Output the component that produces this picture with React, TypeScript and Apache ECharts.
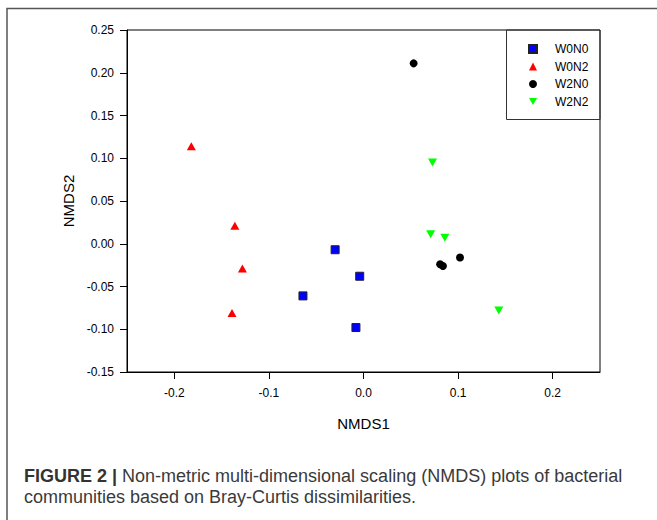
import React, { useEffect, useRef } from "react";
import * as echarts from "echarts";

const seriesNames = ["W0N0", "W0N2", "W2N0", "W2N2"];
const w0n0X = [-0.03, -0.004, -0.064, -0.008];
const w0n0Y = [-0.007, -0.038, -0.061, -0.098];
const w0n2X = [-0.182, -0.136, -0.128, -0.139];
const w0n2Y = [0.114, 0.021, -0.029, -0.081];
const w2n0X = [0.053, 0.102, 0.081, 0.084];
const w2n0Y = [0.211, -0.016, -0.024, -0.026];
const w2n2X = [0.073, 0.071, 0.086, 0.143];
const w2n2Y = [0.095, 0.011, 0.007, -0.078];
const xTicks = [-0.2, -0.1, 0.0, 0.1, 0.2];

const pairs = (xs: number[], ys: number[]) => xs.map((x, i) => [x, ys[i]]);

export default function App() {
  const ref = useRef<HTMLDivElement>(null);
  useEffect(() => {
    if (!ref.current) return;
    const chart = echarts.init(ref.current, null, { renderer: "svg" });
    const font = "'Liberation Sans', Arial, sans-serif";
    chart.setOption({
      animation: false,
      textStyle: { fontFamily: font },
      grid: {
        left: 127,
        top: 30,
        width: 473,
        height: 342,
        show: true,
        borderColor: "#000",
        borderWidth: 1,
        backgroundColor: "transparent",
      },
      legend: {
        data: [
          { name: seriesNames[0], icon: "rect" },
          { name: seriesNames[1], icon: "triangle" },
          { name: seriesNames[2], icon: "circle" },
          { name: seriesNames[3], icon: "path://M0,0L10,0L5,9Z" },
        ],
        orient: "vertical",
        left: 528,
        top: 43,
        padding: 0,
        itemWidth: 8,
        itemHeight: 8,
        itemGap: 5.5,
        textStyle: {
          fontFamily: font,
          fontSize: 12,
          lineHeight: 12,
          color: "#000",
          padding: [0, 0, 0, 13],
        },
      },
      xAxis: {
        type: "value",
        min: -0.25,
        max: 0.25,
        name: "NMDS1",
        nameLocation: "middle",
        nameGap: 44,
        nameTextStyle: { fontFamily: font, fontSize: 15, color: "#000" },
        axisLine: { show: true, onZero: false, lineStyle: { color: "#000", width: 1 } },
        axisTick: { show: true, length: 7, customValues: xTicks, lineStyle: { color: "#000" } },
        axisLabel: {
          customValues: xTicks,
          margin: 15,
          fontSize: 12,
          color: "#000",
          fontFamily: font,
          formatter: (v: number) => v.toFixed(1),
        },
        splitLine: { show: false },
      },
      yAxis: {
        type: "value",
        min: -0.15,
        max: 0.25,
        interval: 0.05,
        name: "NMDS2",
        nameLocation: "middle",
        nameGap: 43,
        nameTextStyle: { fontFamily: font, fontSize: 15, color: "#000" },
        axisLine: { show: true, onZero: false, lineStyle: { color: "#000", width: 1 } },
        axisTick: { show: true, length: 7, lineStyle: { color: "#000" } },
        axisLabel: {
          margin: 13,
          fontSize: 12,
          color: "#000",
          fontFamily: font,
          formatter: (v: number) => v.toFixed(2),
        },
        splitLine: { show: false },
      },
      series: [
        {
          name: "W0N0",
          type: "scatter",
          symbol: "rect",
          symbolSize: 8,
          itemStyle: { color: "#0000ff", borderColor: "#222", borderWidth: 1, opacity: 1 },
          data: pairs(w0n0X, w0n0Y),
        },
        {
          name: "W0N2",
          type: "scatter",
          symbol: "triangle",
          symbolSize: [9, 8],
          itemStyle: { color: "#ff0000", opacity: 1 },
          data: pairs(w0n2X, w0n2Y),
        },
        {
          name: "W2N0",
          type: "scatter",
          symbol: "circle",
          symbolSize: 8,
          itemStyle: { color: "#000000", opacity: 1 },
          data: pairs(w2n0X, w2n0Y),
        },
        {
          name: "W2N2",
          type: "scatter",
          symbol: "triangle",
          symbolRotate: 180,
          symbolSize: [9, 8],
          itemStyle: { color: "#00ff00", opacity: 1 },
          data: pairs(w2n2X, w2n2Y),
        },
      ],
      graphic: [
        {
          type: "rect",
          shape: { x: 7, y: 8.5, width: 700, height: 600 },
          style: { fill: "none", stroke: "#555", lineWidth: 1.5 },
          silent: true,
        },
        {
          type: "rect",
          shape: { x: 506.5, y: 30, width: 93.5, height: 89.5 },
          style: { fill: "none", stroke: "#333", lineWidth: 1 },
          silent: true,
        },
        {
          type: "text",
          x: 24,
          y: 476,
          style: {
            text: "{b|FIGURE 2 |} Non-metric multi-dimensional scaling (NMDS) plots of bacterial",
            fontFamily: font,
            fontSize: 18,
            fill: "#3a3a3a",
            verticalAlign: "middle",
            rich: { b: { fontWeight: "bold", fontFamily: font, fontSize: 18, fill: "#333" } },
          },
          silent: true,
        },
        {
          type: "text",
          x: 24,
          y: 497,
          style: {
            text: "communities based on Bray-Curtis dissimilarities.",
            fontFamily: font,
            fontSize: 18,
            fill: "#3a3a3a",
            verticalAlign: "middle",
          },
          silent: true,
        },
      ],
    });
    return () => chart.dispose();
  }, []);
  return (
    <div
      ref={ref}
      style={{ position: "fixed", left: 0, top: 0, width: 657, height: 520, background: "#fff" }}
    />
  );
}
